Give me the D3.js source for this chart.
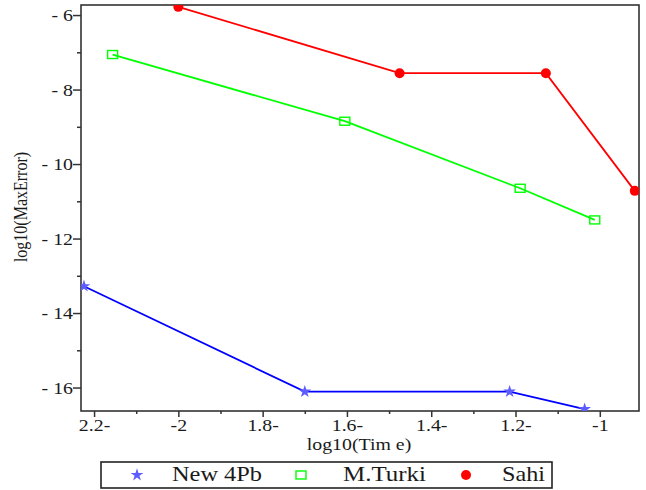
<!DOCTYPE html>
<html>
<head>
    <meta charset="utf-8">
    <style>
        body {
            margin: 0;
            background: white;
        }

        svg text {
            font-family: 'Liberation Serif', 'Times New Roman', serif;
            fill: #1a1a1a;
        }

        .tick text {
            font-size: 16px;
        }

        .axis-title {
            font-size: 16px;
        }

        .legend-text {
            font-size: 21px;
        }
    </style>
</head>
<body>
    <svg width="646" height="490"></svg>

    <script src="https://d3js.org/d3.v7.min.js"></script>
    <script>
        // data (log10 time, log10 max error)
        let new4pbX = [-2.224, -1.70, -1.214, -1.036]
        let new4pbY = [-13.28, -16.11, -16.11, -16.58]

        let turkiX = [-2.156, -1.605, -1.189, -1.012]
        let turkiY = [-7.06, -8.85, -10.65, -11.50]

        let sahiX = [-2.0, -1.475, -1.128, -0.917]
        let sahiY = [-5.78, -7.56, -7.56, -10.72]

        let xTicks = [-2.2, -2.0, -1.8, -1.6, -1.4, -1.2, -1.0]
        let xTickLabels = ["2.2-", "-2", "1.8-", "1.6-", "1.4-", "1.2-", "-1"]
        let xMinor = [-2.1, -1.9, -1.7, -1.5, -1.3, -1.1]

        let yTicks = [-6, -8, -10, -12, -14, -16]
        let yTickLabels = ["- 6", "- 8", "- 10", "- 12", "- 14", "- 16"]
        let yMinor = [-7, -9, -11, -13, -15]

        let seriesNames = ["New 4Pb", "M.Turki", "Sahi"]

        let plotLeft = 81, plotTop = 5, plotRight = 639, plotBottom = 411

        // the original picture is stretched sideways a bit
        let stretch = 1.24

        let svg = d3.select("svg")

        let x = d3.scaleLinear()
            .domain([-2.231, -0.907])
            .range([plotLeft, plotRight])

        let y = d3.scaleLinear()
            .domain([-5.73, -16.63])
            .range([plotTop, plotBottom])

        // minor ticks
        svg.append("g")
            .attr("transform", `translate(0,${plotBottom})`)
            .call(d3.axisBottom(x).tickValues(xMinor).tickSize(3).tickFormat(""))
            .call(g => g.select(".domain").remove())
            .selectAll("line").attr("stroke", "#333").attr("stroke-width", 1.5)

        svg.append("g")
            .attr("transform", `translate(${plotLeft},0)`)
            .call(d3.axisLeft(y).tickValues(yMinor).tickSize(4).tickFormat(""))
            .call(g => g.select(".domain").remove())
            .selectAll("line").attr("stroke", "#333").attr("stroke-width", 1.5)

        // major ticks with labels
        let xAxis = svg.append("g")
            .attr("transform", `translate(0,${plotBottom})`)
            .call(d3.axisBottom(x)
                .tickValues(xTicks)
                .tickSize(6)
                .tickPadding(3)
                .tickFormat((d, i) => xTickLabels[i]))
        xAxis.select(".domain").remove()
        xAxis.selectAll("line").attr("stroke", "#333").attr("stroke-width", 1.5)
        xAxis.attr("font-family", null).attr("font-size", null)
        xAxis.selectAll("text")
            .attr("dy", null)
            .attr("y", 0)
            .attr("transform", `translate(0,20) scale(${stretch},1)`)

        let yAxis = svg.append("g")
            .attr("transform", `translate(${plotLeft},0)`)
            .call(d3.axisLeft(y)
                .tickValues(yTicks)
                .tickSize(8)
                .tickPadding(1)
                .tickFormat((d, i) => yTickLabels[i]))
        yAxis.select(".domain").remove()
        yAxis.selectAll("line").attr("stroke", "#333").attr("stroke-width", 1.5)
        yAxis.attr("font-family", null).attr("font-size", null)
        yAxis.selectAll("text")
            .attr("x", 0)
            .attr("dy", null)
            .attr("y", 0)
            .attr("transform", `translate(-8,5.5) scale(${stretch},1)`)

        // frame
        svg.append("rect")
            .attr("x", plotLeft)
            .attr("y", plotTop)
            .attr("width", plotRight - plotLeft)
            .attr("height", plotBottom - plotTop)
            .style("fill", "none")
            .style("stroke", "#333")
            .style("stroke-width", 1.6)

        // clip so the last red dot is cut at the frame
        svg.append("clipPath")
            .attr("id", "plot-clip")
            .append("rect")
            .attr("x", plotLeft)
            .attr("y", plotTop)
            .attr("width", plotRight - plotLeft)
            .attr("height", plotBottom - plotTop)

        let plot = svg.append("g").attr("clip-path", "url(#plot-clip)")

        let line = d3.line()
            .x(d => x(d[0]))
            .y(d => y(d[1]))

        let blue = d3.zip(new4pbX, new4pbY)
        let green = d3.zip(turkiX, turkiY)
        let red = d3.zip(sahiX, sahiY)

        plot.append("path")
            .attr("d", line(blue))
            .style("fill", "none")
            .style("stroke", "#0000ff")
            .style("stroke-width", 1.8)

        plot.append("path")
            .attr("d", line(green))
            .style("fill", "none")
            .style("stroke", "#00ff00")
            .style("stroke-width", 1.8)

        plot.append("path")
            .attr("d", line(red))
            .style("fill", "none")
            .style("stroke", "#ff0000")
            .style("stroke-width", 1.8)

        let star = d3.symbol().type(d3.symbolStar).size(50)

        plot.selectAll(".star")
            .data(blue)
            .join("path")
            .attr("class", "star")
            .attr("transform", d => `translate(${x(d[0])},${y(d[1])})`)
            .attr("d", star)
            .style("fill", "#5c5cff")

        plot.selectAll(".square")
            .data(green)
            .join("rect")
            .attr("class", "square")
            .attr("x", d => x(d[0]) - 5)
            .attr("y", d => y(d[1]) - 4)
            .attr("width", 10)
            .attr("height", 8)
            .style("fill", "none")
            .style("stroke", "#00ff00")
            .style("stroke-width", 1.4)

        plot.selectAll(".dot")
            .data(red)
            .join("circle")
            .attr("class", "dot")
            .attr("cx", d => x(d[0]))
            .attr("cy", d => y(d[1]))
            .attr("r", 5)
            .style("fill", "#ff0000")

        // axis titles
        svg.append("text")
            .attr("class", "axis-title")
            .attr("transform", `translate(359,450) scale(${stretch},1)`)
            .attr("text-anchor", "middle")
            .text("log10(Tim e)")

        svg.append("text")
            .attr("class", "axis-title")
            .attr("transform", `translate(27,207) scale(${stretch},1) rotate(-90)`)
            .attr("text-anchor", "middle")
            .text("log10(MaxError)")

        // legend
        let legend = svg.append("g")

        legend.append("rect")
            .attr("x", 101)
            .attr("y", 462)
            .attr("width", 451)
            .attr("height", 26)
            .style("fill", "white")
            .style("stroke", "#222")
            .style("stroke-width", 1.6)

        let legY = 475

        legend.append("path")
            .attr("transform", `translate(137,${legY})`)
            .attr("d", star)
            .style("fill", "#5c5cff")

        legend.append("rect")
            .attr("x", 296)
            .attr("y", legY - 4)
            .attr("width", 10)
            .attr("height", 8)
            .style("fill", "none")
            .style("stroke", "#00ff00")
            .style("stroke-width", 1.4)

        legend.append("circle")
            .attr("cx", 466)
            .attr("cy", legY)
            .attr("r", 5)
            .style("fill", "#ff0000")

        let legTextX = [172, 343, 502]
        let legTextW = [90, 83, 43]

        legend.selectAll(".legend-text")
            .data(seriesNames)
            .join("text")
            .attr("class", "legend-text")
            .attr("x", (d, i) => legTextX[i])
            .attr("y", legY + 6)
            .attr("textLength", (d, i) => legTextW[i])
            .attr("lengthAdjust", "spacingAndGlyphs")
            .text(d => d)
    </script>
</body>
</html>
